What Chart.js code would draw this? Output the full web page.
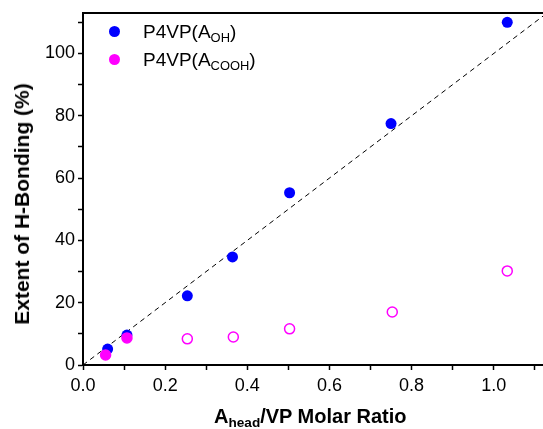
<!DOCTYPE html>
<html>
<head>
<meta charset="utf-8">
<script src="https://cdn.jsdelivr.net/npm/chart.js@4.4.1/dist/chart.umd.min.js"></script>
<style>
  html, body { margin: 0; padding: 0; background: #fff; overflow: hidden; }
  #wrap { position: relative; width: 543px; height: 429px; }
  .txt { position: absolute; font-family: "Liberation Sans", Arial, sans-serif; color: #000; white-space: nowrap; }
  .legend { font-size: 19px; line-height: 19px; }
  .legend .dot { position: absolute; width: 11px; height: 11px; border-radius: 50%; }
  .xtitle { font-size: 20px; font-weight: bold; }
  .ytitle { font-size: 21px; font-weight: bold; line-height: 24px; transform: translate(-50%, -50%) rotate(-90deg); }
  sub { font-size: 68%; vertical-align: -0.3em; line-height: 0; }
</style>
</head>
<body>
<div id="wrap">
  <canvas id="myChart" width="543" height="429"></canvas>
  <div class="txt legend" id="leg0" style="left:109px; top:22px;"><span class="dot" style="left:0; top:4px;"></span><span style="margin-left:34px;">P4VP(A<sub>OH</sub>)</span></div>
  <div class="txt legend" id="leg1" style="left:109px; top:50px;"><span class="dot" style="left:0; top:4px;"></span><span style="margin-left:34px;">P4VP(A<sub>COOH</sub>)</span></div>
  <div class="txt xtitle" id="xtitle" style="left:214px; top:405px;">A<sub>head</sub>/VP Molar Ratio</div>
  <div class="txt ytitle" id="ytitle" style="left:22px; top:204px;">Extent of H-Bonding (%)</div>
</div>
<script>
// P4VP(A_OH) series
const ratioOH = [0.06, 0.107, 0.254, 0.364, 0.503, 0.75, 1.033];
const bondOH = [5.1, 9.6, 22.2, 34.7, 55.3, 77.5, 110];
// P4VP(A_COOH) series
const ratioCOOH = [0.055, 0.107, 0.254, 0.366, 0.503, 0.753, 1.033];
const bondCOOH = [3.2, 8.7, 8.4, 9.0, 11.6, 17.0, 30.2];
// first two COOH points are filled, the rest hollow
const filledCOOH = [true, true, false, false, false, false, false];
// dashed guide line y = 100x
const guideX = [0, 1.12];
const guideY = [0, 112];

const colors = ['#0000ff', '#ff00ff'];
document.querySelector('#leg0 .dot').style.background = colors[0];
document.querySelector('#leg1 .dot').style.background = colors[1];

const toXY = (xs, ys) => xs.map((x, i) => ({x: x, y: ys[i]}));

// top frame line
const framePlugin = {
  id: 'frame',
  afterDraw(chart) {
    const {ctx, chartArea} = chart;
    ctx.save();
    ctx.strokeStyle = '#000';
    ctx.lineWidth = 2;
    ctx.beginPath();
    ctx.moveTo(chartArea.left - 1, chartArea.top);
    ctx.lineTo(chartArea.right, chartArea.top);
    ctx.stroke();
    ctx.restore();
  }
};

const font = "'Liberation Sans', Arial, sans-serif";

new Chart(document.getElementById('myChart'), {
  type: 'scatter',
  data: {
    datasets: [
      {
        label: 'P4VP(A_COOH)',
        data: toXY(ratioCOOH, bondCOOH),
        pointRadius: 5,
        pointBorderWidth: 1.5,
        pointBorderColor: colors[1],
        pointBackgroundColor: filledCOOH.map(f => f ? colors[1] : '#ffffff'),
        pointHoverRadius: 5,
        order: 1
      },
      {
        label: 'P4VP(A_OH)',
        data: toXY(ratioOH, bondOH),
        pointRadius: 5.5,
        pointBorderWidth: 0,
        pointBackgroundColor: colors[0],
        pointHoverRadius: 5.5,
        order: 2
      },
      {
        label: 'guide',
        type: 'line',
        data: toXY(guideX, guideY),
        borderColor: '#000',
        borderWidth: 1,
        borderDash: [5, 4],
        pointRadius: 0,
        fill: false,
        order: 3
      }
    ]
  },
  options: {
    responsive: false,
    animation: false,
    layout: { autoPadding: false, padding: { top: 13, right: 0, left: 0, bottom: 0 } },
    plugins: { legend: { display: false }, tooltip: { enabled: false } },
    scales: {
      x: {
        type: 'linear',
        min: 0,
        max: 1.12,
        afterFit: (s) => { s.height = 64; s.paddingRight = 0; s.paddingLeft = 0; },
        border: { display: true, color: '#000', width: 2 },
        grid: { drawOnChartArea: false, drawTicks: true, tickLength: 5, tickColor: '#000', tickWidth: 1.5 },
        ticks: {
          stepSize: 0.1,
          includeBounds: false,
          maxRotation: 0,
          autoSkip: false,
          padding: 5,
          color: '#000',
          font: { family: font, size: 18 },
          callback: (v) => Math.round(v * 10) % 2 === 0 ? v.toFixed(1) : ''
        }
      },
      y: {
        type: 'linear',
        min: 0,
        max: 113,
        afterFit: (s) => { s.width = 83; s.paddingTop = 0; s.paddingBottom = 0; },
        border: { display: true, color: '#000', width: 2 },
        grid: { drawOnChartArea: false, drawTicks: true, tickLength: 5, tickColor: '#000', tickWidth: 1.5 },
        ticks: {
          stepSize: 10,
          includeBounds: false,
          autoSkip: false,
          padding: 3,
          color: '#000',
          font: { family: font, size: 18 },
          callback: (v) => Math.round(v) % 20 === 0 ? String(v) : ''
        }
      }
    }
  },
  plugins: [framePlugin]
});
</script>
</body>
</html>
